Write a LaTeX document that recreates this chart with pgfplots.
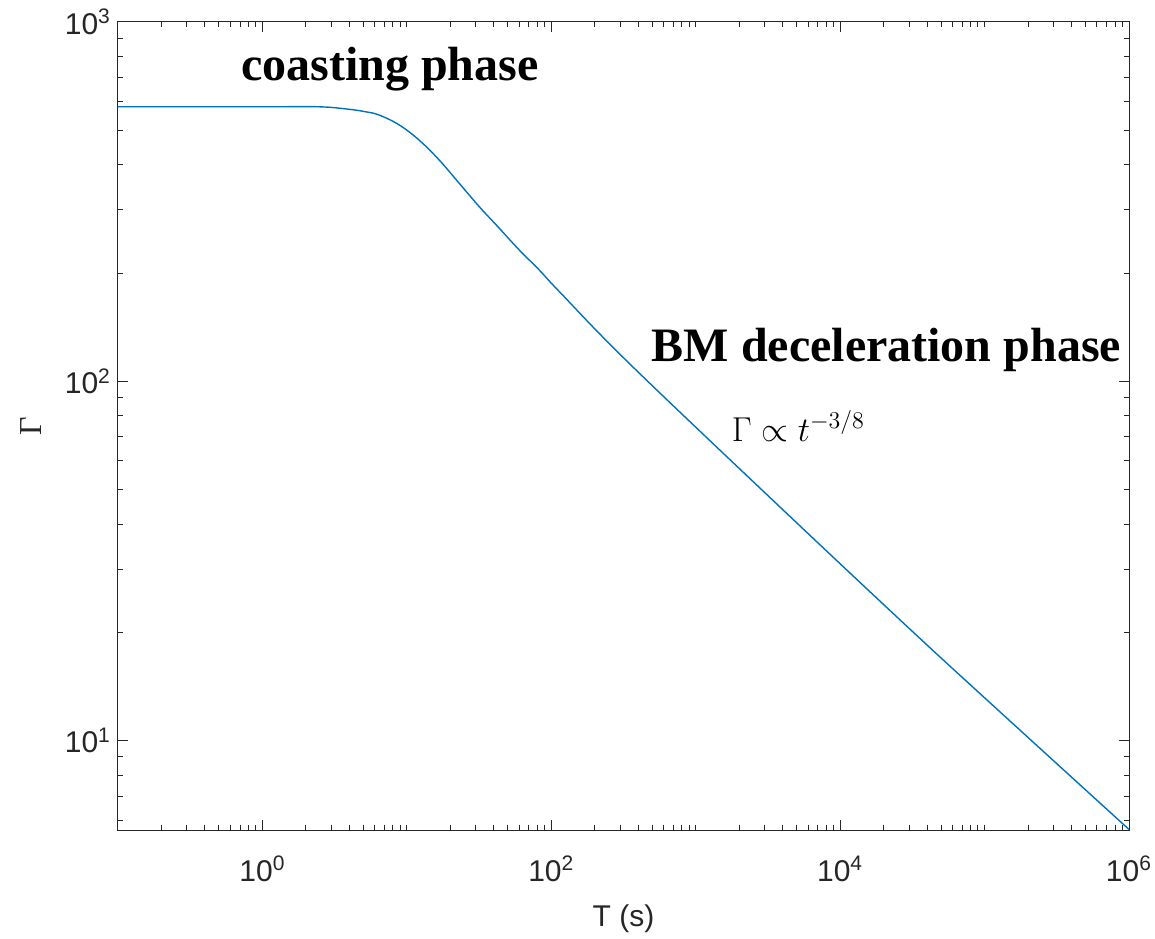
\documentclass[border=0pt]{standalone}
\usepackage{pgfplots}
\pgfplotsset{compat=1.18}
\usepackage{fontspec}
\setmainfont{Liberation Sans}
\newfontfamily\tnr{Liberation Serif}
\definecolor{mblue}{rgb}{0,0.447,0.741}
\definecolor{axgray}{rgb}{0.15,0.15,0.15}
\newcommand{\xl}[1]{\rule{0pt}{22pt}10\textsuperscript{#1}}
\begin{document}
\begin{tikzpicture}
\begin{axis}[
  scale only axis,
  width=505.5pt, height=404pt,
  xmode=log, ymode=log,
  xmin=0.1, xmax=1e6, ymin=5.63, ymax=1000,
  axis line style={draw=axgray, line width=0.5pt},
  tick style={draw=axgray, line width=0.5pt},
  major tick length=5pt, minor tick length=2.6pt,
  tick align=inside,
  xtick={1,100,10000,1000000},
  xticklabels={\xl{0},\xl{2},\xl{4},\xl{6}},
  minor xtick={0.2,0.3,0.4,0.5,0.6,0.7,0.8,0.9,2,3,4,5,6,7,8,9,10,20,30,40,50,60,70,80,90,200,300,400,500,600,700,800,900,1000,2000,3000,4000,5000,6000,7000,8000,9000,20000,30000,40000,50000,60000,70000,80000,90000,100000,200000,300000,400000,500000,600000,700000,800000,900000},
  ytick={10,100,1000},
  yticklabels={10\textsuperscript{1},10\textsuperscript{2},10\textsuperscript{3}},
  minor ytick={6,7,8,9,20,30,40,50,60,70,80,90,200,300,400,500,600,700,800,900},
  ticklabel style={font=\fontsize{15}{18}\selectfont, text=axgray},
  xlabel={T (s)},
  xlabel style={font=\fontsize{15}{18}\selectfont, text=axgray, at={(axis description cs:0.5,-0.11)}, anchor=center},
  ylabel={\tnr Γ},
  ylabel style={font=\fontsize{16}{19}\selectfont, text=axgray, at={(axis description cs:-0.086,0.5)}, anchor=center, rotate=0},
]
\addplot[color=mblue, line width=0.7pt, smooth, tension=0.6] coordinates {
(0.1,580.7) (1,580.7) (2.47,580.7) (3.98,571.5) (5.20,562.3) (6.43,550.8)
(8.85,517.0) (12.16,469.0) (16.75,412.8) (23.05,355.6) (31.7,306.2)
(43.6,266.7) (60.1,231.7) (82.8,203.7) (114.0,177.4)
(348,111.9) (3819,44.7) (31260,20.2) (128000,12.0) (1000000,5.65)
};
\node[font=\tnr\bfseries\fontsize{24}{28}\selectfont, anchor=center] at (rel axis cs:0.269,0.942) {coasting phase};
\node[font=\tnr\bfseries\fontsize{24}{28}\selectfont, anchor=center] at (rel axis cs:0.760,0.594) {BM deceleration phase};
\node[font=\fontsize{17}{20}\selectfont, anchor=center] at (rel axis cs:0.673,0.50) {$\Gamma \propto t^{-3/8}$};
\end{axis}
\pgfresetboundingbox
\path ([shift={(-59pt,-54pt)}]current axis.south west) rectangle ([shift={(13pt,11pt)}]current axis.north east);
\end{tikzpicture}
\end{document}
